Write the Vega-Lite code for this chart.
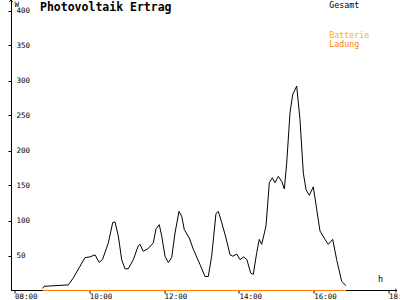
{
  "$schema": "https://vega.github.io/schema/vega-lite/v6.json",
  "width": 386,
  "height": 290.5,
  "autosize": "none",
  "padding": {"left": 11, "top": 0, "right": 3, "bottom": 9.5},
  "background": "white",
  "config": {"view": {"stroke": null}, "font": "DejaVu Sans Mono"},
  "title": {"text": "Photovoltaik Ertrag", "anchor": "start", "frame": "group", "dx": 29, "dy": 24, "offset": 0, "baseline": "alphabetic", "fontSize": 11.5, "fontWeight": "bold", "font": "DejaVu Sans Mono", "color": "black"},
  "datasets": {
    "gesamt": [
      {"s": "Gesamt", "h": 8.741, "w": 3},
      {"s": "Gesamt", "h": 8.775, "w": 6},
      {"s": "Gesamt", "h": 9.425, "w": 8},
      {"s": "Gesamt", "h": 9.559, "w": 18},
      {"s": "Gesamt", "h": 9.872, "w": 47},
      {"s": "Gesamt", "h": 10.005, "w": 48},
      {"s": "Gesamt", "h": 10.139, "w": 51},
      {"s": "Gesamt", "h": 10.254, "w": 40},
      {"s": "Gesamt", "h": 10.345, "w": 45},
      {"s": "Gesamt", "h": 10.495, "w": 68},
      {"s": "Gesamt", "h": 10.612, "w": 97},
      {"s": "Gesamt", "h": 10.674, "w": 98},
      {"s": "Gesamt", "h": 10.762, "w": 78},
      {"s": "Gesamt", "h": 10.853, "w": 44},
      {"s": "Gesamt", "h": 10.941, "w": 31},
      {"s": "Gesamt", "h": 11.029, "w": 31},
      {"s": "Gesamt", "h": 11.163, "w": 44},
      {"s": "Gesamt", "h": 11.297, "w": 64},
      {"s": "Gesamt", "h": 11.342, "w": 66},
      {"s": "Gesamt", "h": 11.43, "w": 56},
      {"s": "Gesamt", "h": 11.564, "w": 60},
      {"s": "Gesamt", "h": 11.698, "w": 68},
      {"s": "Gesamt", "h": 11.77, "w": 88},
      {"s": "Gesamt", "h": 11.858, "w": 94},
      {"s": "Gesamt", "h": 11.922, "w": 78},
      {"s": "Gesamt", "h": 12.011, "w": 49},
      {"s": "Gesamt", "h": 12.099, "w": 40},
      {"s": "Gesamt", "h": 12.19, "w": 47},
      {"s": "Gesamt", "h": 12.278, "w": 82},
      {"s": "Gesamt", "h": 12.385, "w": 113},
      {"s": "Gesamt", "h": 12.457, "w": 106},
      {"s": "Gesamt", "h": 12.527, "w": 87},
      {"s": "Gesamt", "h": 12.66, "w": 75},
      {"s": "Gesamt", "h": 12.767, "w": 59},
      {"s": "Gesamt", "h": 12.947, "w": 37},
      {"s": "Gesamt", "h": 13.08, "w": 20},
      {"s": "Gesamt", "h": 13.168, "w": 20},
      {"s": "Gesamt", "h": 13.259, "w": 49},
      {"s": "Gesamt", "h": 13.374, "w": 110},
      {"s": "Gesamt", "h": 13.436, "w": 113},
      {"s": "Gesamt", "h": 13.527, "w": 97},
      {"s": "Gesamt", "h": 13.642, "w": 75},
      {"s": "Gesamt", "h": 13.749, "w": 51},
      {"s": "Gesamt", "h": 13.821, "w": 49},
      {"s": "Gesamt", "h": 13.928, "w": 52},
      {"s": "Gesamt", "h": 14.016, "w": 44},
      {"s": "Gesamt", "h": 14.112, "w": 48},
      {"s": "Gesamt", "h": 14.201, "w": 44},
      {"s": "Gesamt", "h": 14.302, "w": 25},
      {"s": "Gesamt", "h": 14.372, "w": 23},
      {"s": "Gesamt", "h": 14.463, "w": 54},
      {"s": "Gesamt", "h": 14.532, "w": 73},
      {"s": "Gesamt", "h": 14.596, "w": 66},
      {"s": "Gesamt", "h": 14.711, "w": 92},
      {"s": "Gesamt", "h": 14.8, "w": 154},
      {"s": "Gesamt", "h": 14.88, "w": 161},
      {"s": "Gesamt", "h": 14.952, "w": 154},
      {"s": "Gesamt", "h": 15.04, "w": 163},
      {"s": "Gesamt", "h": 15.131, "w": 156},
      {"s": "Gesamt", "h": 15.201, "w": 145},
      {"s": "Gesamt", "h": 15.265, "w": 182},
      {"s": "Gesamt", "h": 15.353, "w": 254},
      {"s": "Gesamt", "h": 15.425, "w": 280},
      {"s": "Gesamt", "h": 15.532, "w": 292},
      {"s": "Gesamt", "h": 15.62, "w": 244},
      {"s": "Gesamt", "h": 15.709, "w": 168},
      {"s": "Gesamt", "h": 15.781, "w": 144},
      {"s": "Gesamt", "h": 15.869, "w": 136},
      {"s": "Gesamt", "h": 15.976, "w": 148},
      {"s": "Gesamt", "h": 16.067, "w": 116},
      {"s": "Gesamt", "h": 16.155, "w": 85},
      {"s": "Gesamt", "h": 16.289, "w": 73},
      {"s": "Gesamt", "h": 16.377, "w": 66},
      {"s": "Gesamt", "h": 16.495, "w": 73},
      {"s": "Gesamt", "h": 16.601, "w": 44},
      {"s": "Gesamt", "h": 16.735, "w": 13},
      {"s": "Gesamt", "h": 16.85, "w": 7}
    ],
    "ladung": [
      {"s": "Ladung", "h": 8.741, "w": 0},
      {"s": "Ladung", "h": 16.85, "w": 0}
    ]
  },
  "layer": [
    {
      "data": {"name": "gesamt"},
      "mark": {"type": "line", "strokeWidth": 1},
      "encoding": {
        "x": {
          "field": "h", "type": "quantitative",
          "scale": {"domain": [7.893, 18.214], "nice": false, "zero": false},
          "axis": {
            "values": [8, 10, 12, 14, 16, 18],
            "labelExpr": "(datum.value < 10 ? '0' : '') + datum.value + ':00'",
            "title": "h", "titleX": 367, "titleY": -9, "titleAlign": "left", "titleBaseline": "alphabetic",
            "titleFontSize": 8.5, "titleFontWeight": "normal", "titleFont": "DejaVu Sans Mono", "titleColor": "black",
            "labelFontSize": 7.5, "labelFont": "DejaVu Sans Mono", "labelAlign": "left", "labelDx": -3, "labelPadding": -1,
            "labelBaseline": "top", "labelFlush": false, "labelOverlap": false, "labelColor": "black",
            "tickSize": 3, "tickColor": "black", "domainColor": "black", "grid": false, "translate": 0
          }
        },
        "y": {
          "field": "w", "type": "quantitative",
          "scale": {"domain": [0, 415], "nice": false},
          "axis": {
            "values": [50, 100, 150, 200, 250, 300, 350, 400],
            "title": "W", "titleAngle": 0, "titleX": 3, "titleY": 6, "titleAlign": "left", "titleBaseline": "alphabetic",
            "titleFontSize": 7.5, "titleFontWeight": "normal", "titleFont": "DejaVu Sans Mono", "titleColor": "black",
            "labelFontSize": 7.5, "labelFont": "DejaVu Sans Mono", "labelAlign": "left", "labelPadding": -8,
            "labelBaseline": "middle", "labelOverlap": false, "labelColor": "black",
            "tickSize": 3, "tickColor": "black", "domainColor": "black", "grid": false
          }
        },
        "stroke": {
          "field": "s", "type": "nominal",
          "scale": {"domain": ["Gesamt"], "range": ["black"]},
          "legend": {
            "orient": "none", "legendX": 310, "legendY": 1.5, "title": null, "padding": 0,
            "symbolSize": 0, "symbolOpacity": 0, "symbolStrokeWidth": 0, "labelOffset": 0,
            "labelFontSize": 8.3, "labelFont": "DejaVu Sans Mono", "labelColor": "black"
          }
        }
      }
    },
    {
      "data": {"name": "ladung"},
      "mark": {"type": "line", "strokeWidth": 1.2},
      "encoding": {
        "x": {"field": "h", "type": "quantitative"},
        "y": {"field": "w", "type": "quantitative"},
        "color": {
          "field": "s", "type": "nominal",
          "scale": {"domain": ["Batterie", "Ladung"], "range": ["#FFB000", "#FF8000"]},
          "legend": {
            "orient": "none", "legendX": 310, "legendY": 32, "title": null, "padding": 0, "rowPadding": 0,
            "symbolSize": 0, "symbolOpacity": 0, "symbolStrokeWidth": 0, "labelOffset": 0,
            "labelFontSize": 8.3, "labelFont": "DejaVu Sans Mono",
            "encode": {"labels": {"update": {"fill": {"scale": "color", "field": "value"}}}}
          }
        }
      }
    },
    {
      "data": {"values": [{}]},
      "mark": {"type": "point", "shape": "M-0.5,0.6L0,0L0.5,0.6", "size": 36, "filled": false, "stroke": "black", "strokeWidth": 1, "opacity": 1},
      "encoding": {
        "x": {"datum": 7.893, "type": "quantitative"},
        "y": {"datum": 415, "type": "quantitative"}
      }
    },
    {
      "data": {"values": [{}]},
      "mark": {"type": "point", "shape": "M-0.6,-0.5L0,0L-0.6,0.5", "size": 36, "filled": false, "stroke": "black", "strokeWidth": 1, "opacity": 1},
      "encoding": {
        "x": {"datum": 18.214, "type": "quantitative"},
        "y": {"datum": 0, "type": "quantitative"}
      }
    }
  ]
}
